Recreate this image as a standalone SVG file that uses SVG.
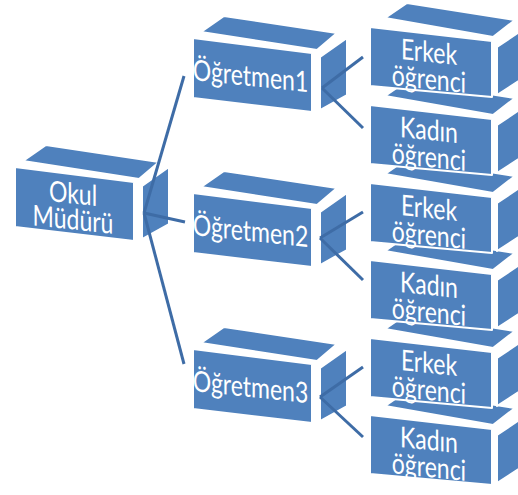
<svg xmlns="http://www.w3.org/2000/svg" xmlns:xlink="http://www.w3.org/1999/xlink" width="518" height="495" viewBox="0 0 518 495">
<style>
.face{fill:#4f81bd;stroke:#ffffff;stroke-width:2;stroke-linejoin:round}
.lbl{font-family:Lato,"Open Sans","Noto Sans",sans-serif;font-size:23px;fill:#ffffff;text-anchor:middle}
.conn{stroke:#3e6ca6;stroke-width:3;stroke-linecap:butt;fill:none}
</style>
<defs>
<g id="tbox">
<polygon class="face" points="8,-6 31,-22 144,-5 124,12"/>
<polygon class="face" points="127,19 154,0 154,57 127,72"/>
<polygon class="face" points="0,0 119,15 119,74 0,60"/>
</g>
<g id="sbox">
<polygon class="face" points="15,-9 37,-24 145,-7 123,10"/>
<polygon class="face" points="127,20 155,1 155,50 127,68"/>
<polygon class="face" points="0,0 122,14 122,70 0,59"/>
</g>
</defs>
<rect width="518" height="495" fill="#ffffff"/>

<g id="okul" transform="translate(15,167)">
<use xlink:href="#tbox"/>
<text class="lbl" transform="translate(58,36.5) skewY(6) scale(1,1.25)">Okul</text>
<text class="lbl" transform="translate(58,62.5) skewY(6) scale(1,1.25)">Müdürü</text>
</g>

<g id="ogretmen1" transform="translate(193,38)">
<use xlink:href="#tbox"/>
<text class="lbl" transform="translate(57.5,48) skewY(6) scale(1,1.25)">Öğretmen1</text>
</g>
<g id="ogretmen2" transform="translate(193,193)">
<use xlink:href="#tbox"/>
<text class="lbl" transform="translate(57.5,48) skewY(6) scale(1,1.25)">Öğretmen2</text>
</g>
<g id="ogretmen3" transform="translate(193,349)">
<use xlink:href="#tbox"/>
<text class="lbl" transform="translate(57.5,48) skewY(6) scale(1,1.25)">Öğretmen3</text>
</g>

<g id="kadin3" transform="translate(370,415)">
<use xlink:href="#sbox"/>
<text class="lbl" transform="translate(59,35) skewY(6) scale(1,1.25)">Kadın</text>
<text class="lbl" transform="translate(59,62) skewY(6) scale(1,1.25)">öğrenci</text>
</g>
<g id="erkek3" transform="translate(370,338)">
<use xlink:href="#sbox"/>
<text class="lbl" transform="translate(59,35) skewY(6) scale(1,1.25)">Erkek</text>
<text class="lbl" transform="translate(59,62) skewY(6) scale(1,1.25)">öğrenci</text>
</g>
<g id="kadin2" transform="translate(370,260)">
<use xlink:href="#sbox"/>
<text class="lbl" transform="translate(59,35) skewY(6) scale(1,1.25)">Kadın</text>
<text class="lbl" transform="translate(59,62) skewY(6) scale(1,1.25)">öğrenci</text>
</g>
<g id="erkek2" transform="translate(370,183)">
<use xlink:href="#sbox"/>
<text class="lbl" transform="translate(59,35) skewY(6) scale(1,1.25)">Erkek</text>
<text class="lbl" transform="translate(59,62) skewY(6) scale(1,1.25)">öğrenci</text>
</g>
<g id="kadin1" transform="translate(370,105)">
<use xlink:href="#sbox"/>
<text class="lbl" transform="translate(59,35) skewY(6) scale(1,1.25)">Kadın</text>
<text class="lbl" transform="translate(59,62) skewY(6) scale(1,1.25)">öğrenci</text>
</g>
<g id="erkek1" transform="translate(370,27)">
<use xlink:href="#sbox"/>
<text class="lbl" transform="translate(59,35) skewY(6) scale(1,1.25)">Erkek</text>
<text class="lbl" transform="translate(59,62) skewY(6) scale(1,1.25)">öğrenci</text>
</g>

<g id="connectors">
<line class="conn" x1="144" y1="213" x2="184" y2="76"/>
<line class="conn" x1="144" y1="213" x2="185" y2="222"/>
<line class="conn" x1="144" y1="213" x2="184" y2="364"/>
<line class="conn" x1="322" y1="88" x2="363" y2="57"/>
<line class="conn" x1="322" y1="88" x2="363" y2="128"/>
<line class="conn" x1="320" y1="238" x2="363" y2="212"/>
<line class="conn" x1="320" y1="238" x2="363" y2="280"/>
<line class="conn" x1="320" y1="397" x2="363" y2="367"/>
<line class="conn" x1="320" y1="397" x2="363" y2="437"/>
</g>
</svg>
